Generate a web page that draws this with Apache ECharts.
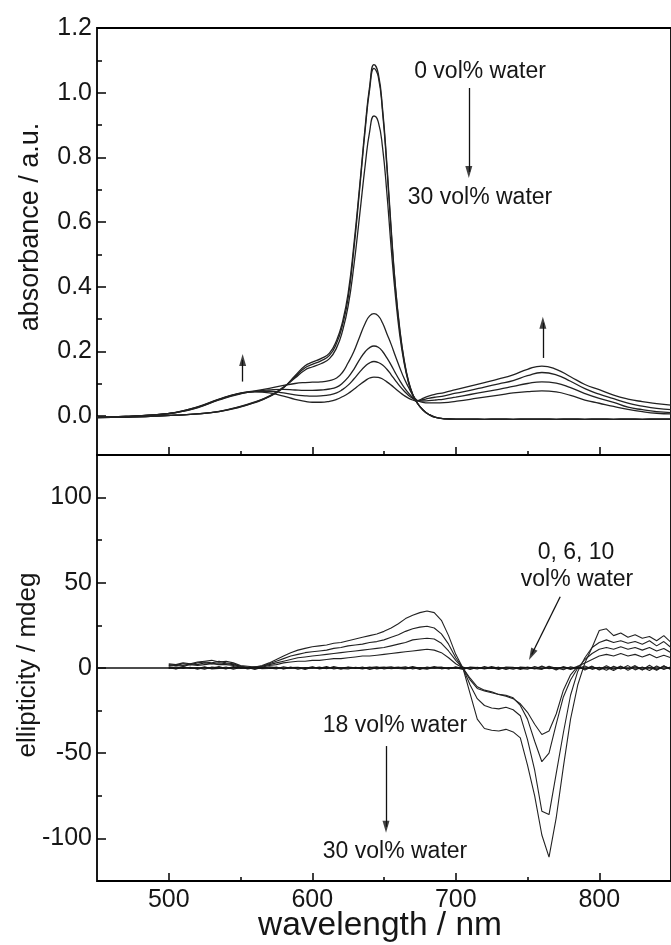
<!DOCTYPE html>
<html><head><meta charset="utf-8">
<script src="https://cdn.jsdelivr.net/npm/echarts@6/dist/echarts.min.js"></script>
<style>html,body{margin:0;padding:0;background:#fff}#c{width:671px;height:945px}</style>
</head><body><div id="c"></div>
<script>
// ---------- Absorbance (top panel) ----------
const wlAbs = [450,470,490,505,520,535,548,560,570,580,588,595,600,606,612,617,621,625,629,633,637,640,643,646,649,652,655,658,661,664,667,670,673,677,681,686,692,700,710,720,730,740,750,760,770,780,790,800,810,820,830,840,850];
const abs0 = [-0.004,-0.003,0.000,0.003,0.007, 0.014,0.026,0.042,0.060,0.088, 0.125,0.156,0.167,0.178,0.195, 0.235,0.290,0.380,0.530,0.710, 0.900,1.020,1.087,1.060,0.950, 0.780,0.580,0.400,0.270,0.175, 0.110,0.068,0.042,0.020,0.006, -0.004,-0.008,-0.009,-0.009,-0.010, -0.009,-0.010,-0.009,-0.009,-0.010, -0.009,-0.010,-0.009,-0.010,-0.009, -0.010,-0.009,-0.009];
const abs6 = [-0.004,-0.003,0.000,0.003,0.007, 0.014,0.027,0.043,0.061,0.089, 0.122,0.150,0.160,0.171,0.188, 0.226,0.280,0.365,0.515,0.700, 0.890,1.010,1.075,1.050,0.940, 0.770,0.570,0.395,0.265,0.172, 0.108,0.067,0.042,0.020,0.006, -0.004,-0.008,-0.009,-0.009,-0.010, -0.009,-0.010,-0.009,-0.009,-0.010, -0.009,-0.010,-0.009,-0.010,-0.009, -0.010,-0.009,-0.009];
const abs10 = [-0.004,-0.003,0.000,0.003,0.007, 0.015,0.028,0.044,0.062,0.090, 0.118,0.143,0.152,0.162,0.178, 0.212,0.262,0.340,0.465,0.620, 0.780,0.880,0.928,0.910,0.830, 0.690,0.520,0.370,0.250,0.165, 0.105,0.065,0.042,0.020,0.006, -0.004,-0.008,-0.009,-0.009,-0.010, -0.009,-0.010,-0.009,-0.009,-0.010, -0.009,-0.010,-0.009,-0.010,-0.009, -0.010,-0.009,-0.009];
const abs18 = [-0.003,-0.001,0.004,0.012,0.029, 0.053,0.070,0.078,0.086,0.095, 0.101,0.104,0.105,0.106,0.110, 0.118,0.135,0.165,0.200,0.245, 0.288,0.310,0.317,0.310,0.288, 0.255,0.222,0.185,0.150,0.117, 0.090,0.066,0.049,0.043,0.041, 0.041,0.042,0.046,0.052,0.059, 0.065,0.072,0.076,0.078,0.075, 0.064,0.050,0.040,0.030,0.021, 0.014,0.009,0.007];
const abs22 = [-0.003,-0.001,0.004,0.012,0.028, 0.052,0.069,0.077,0.081,0.083, 0.081,0.080,0.080,0.081,0.084, 0.090,0.102,0.120,0.145,0.175, 0.200,0.212,0.217,0.213,0.200, 0.180,0.158,0.133,0.110,0.089, 0.072,0.058,0.048,0.047,0.048, 0.050,0.053,0.059,0.067,0.075, 0.083,0.092,0.101,0.106,0.102, 0.088,0.070,0.055,0.043,0.028, 0.020,0.014,0.011];
const abs26 = [-0.003,-0.001,0.004,0.011,0.027, 0.051,0.068,0.076,0.077,0.072, 0.066,0.063,0.062,0.063,0.066, 0.072,0.082,0.096,0.115,0.136, 0.155,0.165,0.169,0.166,0.158, 0.145,0.128,0.110,0.093,0.078, 0.065,0.055,0.048,0.051,0.055, 0.059,0.063,0.071,0.080,0.090, 0.100,0.110,0.125,0.135,0.128, 0.108,0.085,0.068,0.054,0.040, 0.031,0.024,0.020];
const abs30 = [-0.003,-0.001,0.004,0.011,0.026, 0.050,0.067,0.075,0.072,0.062, 0.052,0.046,0.043,0.043,0.046, 0.052,0.060,0.070,0.083,0.097, 0.110,0.118,0.121,0.120,0.115, 0.106,0.096,0.085,0.074,0.064, 0.056,0.050,0.047,0.055,0.062, 0.068,0.073,0.082,0.093,0.104, 0.115,0.128,0.145,0.155,0.145, 0.122,0.098,0.082,0.065,0.053, 0.045,0.039,0.034];

// ---------- CD (bottom panel) ----------
const wlCD = [500,505,510,515,520,525,530,535,540,545, 550,555,560,565,570,575,580,585,590,595, 600,605,610,615,620,625,630,635,640,645, 650,655,660,665,670,675,680,685,690,695, 700,705,710,715,720,725,730,735,740,745, 750,755,760,765,770,775,780,785,790,795, 800,805,810,815,820,825,830,835,840,845, 850];
const cd0 = [0.5,-0.4,0.8,-0.3,0.2,-0.7,0.6,0.1,-0.5,0.9, -0.2,0.3,-0.8,0.4,0.0,-0.5,0.7,-0.1,0.3,-0.9, 0.5,-0.2,0.8,-0.6,0.1,0.4,-0.3,0.6,-0.8,0.2, 0.5,-0.4,0.1,0.7,-0.6,0.3,-0.2,0.9,-0.5,0.2, -0.1,0.6,-0.9,0.4,-0.3,0.8,-0.2,0.1,-0.7,0.5, 0.3,-0.6,1.1,-0.4,0.2,-1.0,0.7,-0.3,1.2,-0.8, 0.4,-1.3,1.0,-0.6,1.4,-1.1,0.6,-1.5,1.2,-0.9, 0.8];
const cd6 = [-0.3,0.6,-0.2,0.4,-0.7,0.3,-0.1,0.8,-0.4,0.2, 0.5,-0.6,0.1,-0.3,0.7,0.2,-0.4,0.6,-0.7,0.3, -0.1,0.5,-0.4,0.9,-0.2,-0.6,0.4,-0.1,0.6,-0.5, 0.2,0.7,-0.3,-0.5,0.4,-0.8,0.6,-0.1,0.3,-0.6, 0.7,-0.4,0.2,-0.6,0.8,-0.3,0.5,-0.9,0.3,-0.2, -0.7,0.9,-0.5,0.6,-1.1,0.8,-0.4,1.0,-1.2,0.7, -0.9,1.3,-0.7,1.1,-1.4,0.9,-1.2,1.6,-1.0,1.3, -1.1];
const cd10 = [0.2,-0.6,0.4,0.1,-0.3,0.7,-0.5,-0.2,0.6,-0.7, 0.3,0.1,0.6,-0.4,-0.3,0.5,-0.6,0.2,0.4,-0.2, 0.7,-0.5,0.2,0.3,-0.7,0.6,0.1,-0.5,0.3,0.7, -0.6,0.1,0.5,-0.2,0.8,-0.1,-0.7,0.4,0.6,-0.4, 0.2,-0.8,0.5,0.3,-0.5,0.2,-0.8,0.6,0.4,-0.9, 0.6,-0.3,-0.8,1.0,-0.2,0.5,-0.9,0.4,-0.6,1.1, -1.2,0.5,-1.5,0.8,-0.6,1.4,-1.0,0.5,-1.3,1.1, -0.5];
const cd18 = [1,1.5,1,2,1.5,2,2.5,2,2,1.5, 0.5,0,0.5,0.5,1.5,2,3,3.5,4,4, 4.5,4.5,5,5.5,5.5,6,6.5,7,7,7.5, 8,8.5,9,9.5,10,10.5,11,10.5,9,6, 2.5,0,-6,-11,-13,-14,-15.5,-16.5,-18,-21, -26,-33,-39,-37,-27,-13,-4,1,3,5, 7,8,7,8.5,7,8,6.5,8,6,7.5, 6];
const cd22 = [1.5,2,1.5,2.5,2,3,2.5,3,2.5,2, 1,0,0.5,1,2,3,4,5,6,6.5, 7,7.5,8,8.5,9,9.5,10,10.5,11,11.5, 12,13,14,15,16.5,17,17.5,17,14.5,10, 4.5,0,-7,-12,-13.5,-14.5,-15.5,-16,-17.5,-22, -30,-43,-55,-50,-33,-17,-7,0,5,8.5, 11,12,11,12.5,11,12,10.5,12,10,11.5, 9];
const cd26 = [2,1.5,2.5,2,3,3.5,3,4,3,2.5, 1,0.5,0,1,2.5,4,5.5,7,8,9, 9.5,10,10.5,11.5,12,13,13.5,14,15,15.5, 16.5,18,19.5,21.5,23,24,24.5,23.5,20,14, 6,0,-10,-18,-22,-23.5,-24,-23,-24.5,-28, -42,-60,-84,-86,-62,-38,-16,-2,6,12, 15,16.5,15,16,14.5,15.5,14,16,13,15.5, 12];
const cd30 = [2.5,2,3,2.5,3.5,4,4.5,3.5,4,3, 1.5,1,0.5,1.5,3,5,7,9,10.5,11.5, 12.5,13,13.5,14.5,15,16,17,18,19,20, 21.5,23.5,26,29,31,32.5,33.5,32.5,28,19, 8,0,-15,-30,-35.5,-36.5,-37,-36,-37.5,-41, -57,-75,-98,-111,-88,-58,-30,-10,3,12, 22,23,19,20.5,18,19.5,17.5,18.5,16,19, 15];

// ---------- tick labels ----------
const xMajor = [500,600,700,800];
const xMinor = [550,650,750];
const absMajor = [0,0.2,0.4,0.6,0.8,1.0,1.2];
const absMinor = [0.1,0.3,0.5,0.7,0.9,1.1];
const cdMajor = [-100,-50,0,50,100];
const cdMinor = [-75,-25,25,75];

// ---------- annotation arrows (data coordinates: [wavelength, value]) ----------
const topArrowLines = [[[709.1, 1.0145], [709.1, 0.755]], [[760.7, 0.180], [760.7, 0.289]], [[551.5, 0.107], [551.5, 0.174]]];
const topArrowHeads = [[709.1, 0.7546, 180], [760.7, 0.2885, 0], [551.5, 0.1735, 0]];
const botArrowLines = [[[772.8, 41.8], [752.9, 7.9]], [[651.4, -45.8], [651.4, -93.2]]];
const botArrowHeads = [[752.9, 7.9, 153.4], [651.4, -93.2, 180]];

const FONT = "'Liberation Sans', Arial, Helvetica, sans-serif";
const INK = '#161616';
const pairs = (xs, ys) => xs.map((x, i) => [x, ys[i]]);

const tickStyle = {color: '#000', width: 1.5};
function xAx(grid, major, labels) {
  return {
    type: 'value', gridIndex: grid, min: 450, max: 850, position: 'bottom',
    axisLine: {show: false, onZero: false}, splitLine: {show: false},
    axisTick: {show: true, inside: true, length: major ? 8 : 4, customValues: major ? xMajor : xMinor, lineStyle: tickStyle},
    axisLabel: labels ? {show: true, customValues: xMajor, fontSize: 25, fontFamily: FONT, color: INK, margin: 7} : {show: false}
  };
}
function yAx(grid, min, max, majorVals, minorVals, major, fmt) {
  return {
    type: 'value', gridIndex: grid, min: min, max: max, position: 'left',
    axisLine: {show: false, onZero: false}, splitLine: {show: false},
    axisTick: {show: true, inside: true, length: major ? 9 : 5, customValues: major ? majorVals : minorVals, lineStyle: tickStyle},
    axisLabel: major ? {show: true, customValues: majorVals, formatter: fmt, fontSize: 25, fontFamily: FONT, color: INK, margin: 5} : {show: false}
  };
}

const lineBase = (name, data, xi, yi, smooth, w) => ({
  name: name, type: 'line', xAxisIndex: xi, yAxisIndex: yi, data: data,
  showSymbol: false, symbol: 'none', smooth: smooth, silent: true,
  lineStyle: {color: '#222', width: w}, z: 3
});

const arrowLine = (pts) => ({
  silent: true, symbol: ['none', 'none'],
  label: {show: false}, lineStyle: {color: '#111', width: 1.3, type: 'solid'},
  emphasis: {disabled: true},
  data: pts.map(p => [{coord: p[0]}, {coord: p[1]}])
});
const arrowHeads = (heads, xi, yi) => ({
  type: 'scatter', xAxisIndex: xi, yAxisIndex: yi, silent: true, z: 6,
  symbol: 'triangle', symbolSize: [7, 12], itemStyle: {color: '#111'},
  data: heads.map(h => ({value: [h[0], h[1]], symbolRotate: h[2]}))
});

const series = [];
const absSets = [['0 vol%', abs0], ['6 vol%', abs6], ['10 vol%', abs10], ['18 vol%', abs18], ['22 vol%', abs22], ['26 vol%', abs26], ['30 vol%', abs30]];
absSets.forEach(([n, v]) => series.push(lineBase('abs ' + n, pairs(wlAbs, v), 0, 0, 0.5, 1.3)));
series[0].markLine = arrowLine(topArrowLines);
const cdSets = [['0 vol%', cd0], ['6 vol%', cd6], ['10 vol%', cd10], ['18 vol%', cd18], ['22 vol%', cd22], ['26 vol%', cd26], ['30 vol%', cd30]];
cdSets.forEach(([n, v]) => series.push(lineBase('cd ' + n, pairs(wlCD, v), 2, 2, false, 1.1)));
series[7].markLine = arrowLine(botArrowLines);
// zero line of the CD panel
series[8].markLine = {silent: true, symbol: ['none', 'none'], label: {show: false},
  lineStyle: {color: '#111', width: 1.6, type: 'solid'}, data: [{yAxis: 0}]};
series.push(arrowHeads(topArrowHeads, 0, 0));
series.push(arrowHeads(botArrowHeads, 2, 2));

const txt = (t, x, y, size, rot) => ({
  type: 'text', x: x, y: y, rotation: rot || 0, silent: true, z: 10,
  style: {text: t, fontSize: size, fontFamily: FONT, fill: INK, align: 'center', verticalAlign: 'middle', textAlign: 'center', textVerticalAlign: 'middle'}
});

const chart = echarts.init(document.getElementById('c'), null, {renderer: 'canvas'});
chart.setOption({
  animation: false,
  backgroundColor: '#fff',
  grid: [
    {left: 97, top: 28, right: -8, height: 427, show: true, borderColor: '#000', borderWidth: 1.8, backgroundColor: 'transparent'},
    {left: 97, top: 455, right: -8, height: 426, show: true, borderColor: '#000', borderWidth: 1.8, backgroundColor: 'transparent'}
  ],
  xAxis: [xAx(0, true, false), xAx(0, false, false), xAx(1, true, true), xAx(1, false, false)],
  yAxis: [
    yAx(0, -0.12, 1.2, absMajor, absMinor, true, v => Number(v).toFixed(1)),
    yAx(0, -0.12, 1.2, absMajor, absMinor, false),
    yAx(1, -125, 125, cdMajor, cdMinor, true, v => String(v)),
    yAx(1, -125, 125, cdMajor, cdMinor, false)
  ],
  series: series,
  graphic: [
    txt('0 vol% water', 480, 72, 23),
    txt('30 vol% water', 480, 198, 23),
    txt('0, 6, 10', 576, 553, 23),
    txt('vol% water', 577, 580, 23),
    txt('18 vol% water', 395, 726, 23),
    txt('30 vol% water', 395, 852, 23),
    txt('absorbance / a.u.', 31, 227, 27, Math.PI / 2),
    txt('ellipticity / mdeg', 28, 665, 26, Math.PI / 2),
    txt('wavelength / nm', 380, 926, 33.5)
  ]
});
</script>
</body></html>
